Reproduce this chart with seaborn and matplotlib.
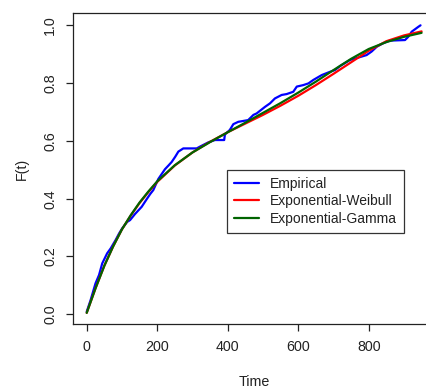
import matplotlib
matplotlib.use("Agg")
import matplotlib.pyplot as plt
import seaborn as sns
import pandas as pd

# ---- data ----
emp_time = [0, 11, 25, 35, 44, 58, 68, 82, 92, 101, 115, 123, 137, 156, 170, 180, 189,
            203, 222, 232, 241, 251, 260, 274, 312, 321, 345, 364, 390, 392, 406, 416,
            430, 458, 473, 482, 506, 520, 534, 553, 567, 586, 596, 614, 629, 643, 667,
            690, 704, 720, 747, 775, 794, 808, 823, 841, 860, 903, 912, 922, 941, 947]
emp_F = [0.009, 0.049, 0.107, 0.136, 0.176, 0.211, 0.228, 0.257, 0.280, 0.298, 0.320,
         0.326, 0.347, 0.372, 0.398, 0.416, 0.430, 0.468, 0.502, 0.515, 0.527, 0.545,
         0.563, 0.574, 0.574, 0.580, 0.595, 0.603, 0.603, 0.622, 0.638, 0.658, 0.666,
         0.672, 0.690, 0.695, 0.718, 0.730, 0.747, 0.759, 0.762, 0.770, 0.788, 0.793,
         0.799, 0.811, 0.828, 0.839, 0.845, 0.860, 0.880, 0.890, 0.897, 0.909, 0.926,
         0.938, 0.947, 0.949, 0.960, 0.978, 0.995, 1.000]

fit_time = [0, 25, 50, 75, 100, 125, 150, 175, 200, 250, 300, 350, 400, 450, 500, 550,
            600, 650, 700, 750, 800, 850, 900, 950]
ew_F = [0.005, 0.090, 0.168, 0.235, 0.294, 0.342, 0.385, 0.423, 0.458, 0.515, 0.560,
        0.597, 0.630, 0.660, 0.690, 0.722, 0.756, 0.793, 0.832, 0.872, 0.912, 0.945,
        0.965, 0.979]
eg_F = [0.005, 0.090, 0.168, 0.235, 0.294, 0.343, 0.387, 0.425, 0.460, 0.516, 0.560,
        0.596, 0.630, 0.663, 0.697, 0.731, 0.767, 0.805, 0.845, 0.884, 0.918, 0.942,
        0.960, 0.974]

series_names = ["Empirical", "Exponential-Weibull", "Exponential-Gamma"]
series_colors = ["#0000FF", "#FF0000", "#006400"]

df = pd.concat([
    pd.DataFrame({"Time": emp_time, "F": emp_F, "series": series_names[0]}),
    pd.DataFrame({"Time": fit_time, "F": ew_F, "series": series_names[1]}),
    pd.DataFrame({"Time": fit_time, "F": eg_F, "series": series_names[2]}),
], ignore_index=True)

sns.set_theme(style="ticks")
plt.rcParams["font.family"] = ["Liberation Sans", "DejaVu Sans"]
plt.rcParams["font.size"] = 10

W, H = 427, 388
fig = plt.figure(figsize=(W / 100, H / 100), dpi=100)
ax_left, ax_top, ax_bottom = 73, 13, 324
x0, x1 = -38.9, 990.0
px_per_unit = 0.3525
ax_w = (x1 - x0) * px_per_unit
ax = fig.add_axes([ax_left / W, (H - ax_bottom) / H, ax_w / W, (ax_bottom - ax_top) / H])

sns.lineplot(data=df, x="Time", y="F", hue="series", hue_order=series_names,
             palette=dict(zip(series_names, series_colors)), estimator=None,
             sort=False, linewidth=1.6, ax=ax)

ax.set_xlim(x0, x1)
ax.set_ylim(-0.0336, 1.0426)
ax.set_xticks([0, 200, 400, 600, 800])
ax.set_yticks([0.0, 0.2, 0.4, 0.6, 0.8, 1.0])
ax.set_yticklabels(["0.0", "0.2", "0.4", "0.6", "0.8", "1.0"])
txtc = "#222222"
ax.tick_params(axis="both", direction="out", length=5, width=0.9, color=txtc,
               labelsize=10.3, labelcolor=txtc, pad=6.5)
for lab in ax.get_yticklabels():
    lab.set_rotation(90)
    lab.set_va("center")
for s in ax.spines.values():
    s.set_visible(True)
    s.set_color(txtc)
    s.set_linewidth(0.9)

ax.set_xlabel("Time", fontsize=10.3, color=txtc, labelpad=15)
ax.set_ylabel("F(t)", fontsize=10.3, color=txtc, labelpad=10)

handles, labels = ax.get_legend_handles_labels()
leg = ax.legend(handles, labels, loc="upper left",
                bbox_to_anchor=(227 / W, 1 - 170 / H), bbox_transform=fig.transFigure,
                frameon=True, fancybox=False, framealpha=1, edgecolor="#333333",
                fontsize=10, handlelength=1.8, handletextpad=0.8, borderpad=0.5,
                labelspacing=0.24, borderaxespad=0)
leg.get_frame().set_linewidth(0.9)
for t in leg.get_texts():
    t.set_color(txtc)
for h in leg.get_lines():
    h.set_linewidth(1.6)

fig.savefig("out.png", dpi=100)
